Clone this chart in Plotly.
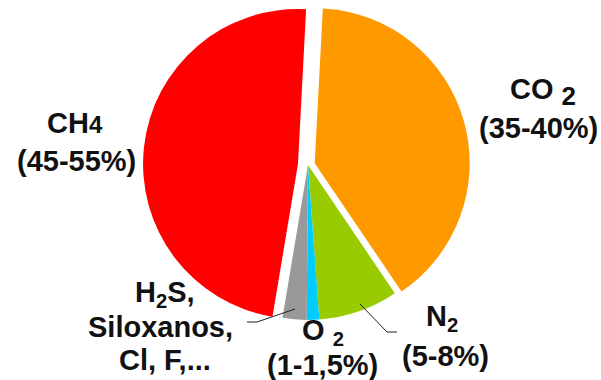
import plotly.graph_objects as go

# ---- data ----
gases = ["CO2", "N2", "O2", "H2S", "CH4"]
shares = [39.7, 8.3, 1.3, 2.5, 48.2]
colors = ["#FF9900", "#99CC00", "#00CCFF", "#999999", "#FF0000"]
pulls = [0.045, 0, 0, 0, 0.065]

W, H = 601, 380

def px(x, y):
    return x / W, 1 - y / H

# pie geometry (pixels)
cx, cy, r = 308, 165, 155
size = r * 2 * (1 + max(pulls))
half_h = min(size / 2 / H, 1 - (1 - cy / H))

fig = go.Figure(go.Pie(
    labels=gases, values=shares, sort=False, direction="clockwise",
    rotation=3, pull=pulls, textinfo="none", hoverinfo="label+percent",
    marker=dict(colors=colors, line=dict(width=0)),
    domain=dict(x=[cx / W - 0.35, cx / W + 0.35],
                y=[1 - cy / H - half_h, 1 - cy / H + half_h]),
    showlegend=False,
))

FONT = dict(family="Liberation Sans, Arial, sans-serif", size=29, color="#111111")
labels = [
    ("<b>CH<span style='font-size:24px'>4</span></b>", 75, 123),
    ("<b>(45-55%)</b>", 76, 161),
    ("<b>CO <sub><span style='font-size:26px'>2</span></sub></b>", 543, 92),
    ("<b>(35-40%)</b>", 538, 128),
    ("<b>N<sub>2</sub></b>", 442, 318),
    ("<b>(5-8%)</b>", 445, 356),
    ("<b>O <sub>2</sub></b>", 323, 332),
    ("<b>(1-1,5%)</b>", 322, 365),
    ("<b>H<sub>2</sub>S,</b>", 165, 294),
    ("<b>Siloxanos,</b>", 160, 327),
    ("<b>Cl, F,...</b>", 165, 360),
]
annotations = []
for text, x, y in labels:
    ax_, ay_ = px(x, y)
    annotations.append(dict(text=text, x=ax_, y=ay_, xref="paper", yref="paper",
                            xanchor="center", yanchor="middle", showarrow=False,
                            font=FONT))

leaders = [
    [(360, 304), (387, 332), (397, 332)],
    [(295, 309), (257, 322), (247, 322)],
]
shapes = []
for pts in leaders:
    for (x0, y0), (x1, y1) in zip(pts[:-1], pts[1:]):
        a0, b0 = px(x0, y0)
        a1, b1 = px(x1, y1)
        shapes.append(dict(type="line", xref="paper", yref="paper",
                           x0=a0, y0=b0, x1=a1, y1=b1,
                           line=dict(color="#222222", width=1)))

fig.update_layout(width=W, height=H, margin=dict(l=0, r=0, t=0, b=0),
                  paper_bgcolor="white", plot_bgcolor="white",
                  annotations=annotations, shapes=shapes)
fig.write_html("out.html")
